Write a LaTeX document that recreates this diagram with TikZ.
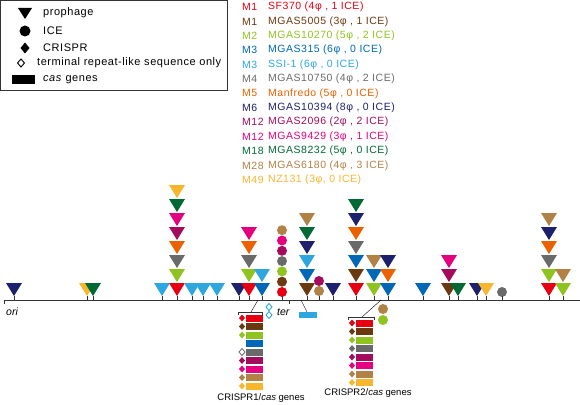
\documentclass[tikz,border=0pt]{standalone}
\usepackage{fontspec}
\setmainfont{Liberation Sans}
\usetikzlibrary{positioning}
\definecolor{m1a}{RGB}{230,0,18}
\definecolor{m1b}{RGB}{106,57,16}
\definecolor{m2}{RGB}{143,195,31}
\definecolor{m3a}{RGB}{0,104,183}
\definecolor{m3b}{RGB}{46,167,224}
\definecolor{m4}{RGB}{106,106,106}
\definecolor{m5}{RGB}{235,97,0}
\definecolor{m6}{RGB}{29,32,106}
\definecolor{m12a}{RGB}{164,11,93}
\definecolor{m12b}{RGB}{228,0,127}
\definecolor{m18}{RGB}{0,105,52}
\definecolor{m28}{RGB}{178,129,70}
\definecolor{m49}{RGB}{248,182,45}
% prophage triangle: x, level, colour
\newcommand{\phg}[3]{\fill[#3] ({#1-8},{283-14*#2}) -- ({#1+8},{283-14*#2}) -- (#1,{296-14*#2}) -- cycle;}
% crispr diamond: x, y, style
\newcommand{\crd}[3]{\path[#3] ({#1-3},#2) -- (#1,{#2-3.5}) -- ({#1+3},#2) -- (#1,{#2+3.5}) -- cycle;}

\begin{document}
\begin{tikzpicture}[x=1pt,y=-1pt,
  tick/.style={black!80,line width=0.8pt},
  lbl/.style={anchor=west,inner sep=0pt,font=\fontsize{11}{13}\selectfont\addfontfeatures{LetterSpace=5}},
  strain/.style={anchor=west,inner sep=0pt,font=\fontsize{10.5}{12}\selectfont\addfontfeatures{LetterSpace=5}},
  captext/.style={font=\fontsize{9.5}{11}\selectfont}]
  \useasboundingbox (0,0) rectangle (580,404);
  % legend
  \draw[black!80,line width=0.8pt] (0.5,0.5) rectangle (227,90);
  \fill (18,8) -- (32,8) -- (25,19) -- cycle;
  \node[lbl] (lphg) at (43,13) {prophage};
  \fill (25,31) circle (5.5);
  \node[lbl] (lice) at (43,31) {ICE};
  \fill (20.5,48) -- (25,42.5) -- (29.5,48) -- (25,53.5) -- cycle;
  \node[lbl] (lcr) at (43,48) {CRISPR};
  \draw[line width=0.9pt] (17.5,63) -- (21,59) -- (24.5,63) -- (21,67) -- cycle;
  \node[lbl] (ltr) at (37,63) {terminal repeat-like sequence only};
  \fill (12,75) rectangle (35,84);
  \node[lbl] (lcas) at (43,80) {\textit{cas} genes};
  % strains
  \foreach \c/\sero/\name [count=\i from 0] in {m1a/M1/{SF370 (4φ , 1 ICE)},
      m1b/M1/{MGAS5005 (3φ , 1 ICE)}, m2/M2/{MGAS10270 (5φ , 2 ICE)},
      m3a/M3/{MGAS315 (6φ , 0 ICE)}, m3b/M3/{SSI-1 (6φ , 0 ICE)},
      m4/M4/{MGAS10750 (4φ , 2 ICE)}, m5/M5/{Manfredo (5φ , 0 ICE)},
      m6/M6/{MGAS10394 (8φ , 0 ICE)}, m12a/M12/{MGAS2096 (2φ , 2 ICE)},
      m12b/M12/{MGAS9429 (3φ , 1 ICE)}, m18/M18/{MGAS8232 (5φ , 0 ICE)},
      m28/M28/{MGAS6180 (4φ , 3 ICE)}, m49/M49/{NZ131 (3φ, 0 ICE)}}
  {
    \node[strain,text=\c] (s\i) at (242,{7+14.4*\i}) {\sero};
    \node[strain,text=\c] (n\i) at (268,{7+14.4*\i}) {\name};
  }
  % chromosome
  \draw[tick] (4,300) -- (580,300);
  \draw[tick] (4,300) -- (4,304);
  \node[lbl,font=\fontsize{10.5}{12}\selectfont\itshape] (ori) at (6,312) {ori};
  \node[lbl,font=\fontsize{10.5}{12}\selectfont\itshape] (ter) at (277,312) {ter};
  \draw[tick] (289,300) -- (289,304);
  % prophages
  \foreach \x/\cols in {14/{m6},87/{m49},93/{m18},162/{m3b},
      177/{m1a,m2,m4,m5,m12a,m12b,m18,m49},192/{m3b},203/{m3b},217/{m3b},
      239/{m6},249/{m1a,m2,m4,m5,m12b},262/{m3a,m3b},
      307/{m1b,m3a,m3b,m6,m18,m28},333/{m6},
      356/{m1a,m1b,m3a,m4,m5,m6,m18},374/{m2,m3a,m28},388/{m3a,m5,m6},
      423/{m3a},449/{m1b,m12a,m12b},458/{m18},477/{m6},486/{m49},
      549/{m1a,m2,m4,m5,m6,m28},563/{m2,m28}}
  {
    \draw[tick] (\x,296) -- (\x,300);
    \foreach \c [count=\k from 0] in \cols {\phg{\x}{\k}{\c}}
  }
  % ICEs
  \foreach \c [count=\k from 0] in {m1a,m1b,m2,m4,m12a,m12b,m28}
    \fill[\c] (282,{292-10.3*\k}) circle (5);
  \draw[tick] (282,296) -- (282,300);
  \fill[m28] (319,291) circle (5);
  \fill[m12a] (319,281) circle (5);
  \draw[tick] (319,296) -- (319,300);
  \fill[m4] (502,292) circle (5);
  \draw[tick] (502,296) -- (502,300);
  \fill[m28] (383,309) circle (5);
  \fill[m2] (383,320) circle (5);
  % light blue block near ter
  \draw[black] (301,300) -- (307,312);
  \fill[m3b] (299,312) rectangle (317,318);
  % terminal repeat-like sequences
  \crd{269}{307}{draw=m3b,line width=0.9pt}
  \crd{269}{315}{draw=m3b,line width=0.9pt}
  % CRISPR1
  \draw[black] (258,300) -- (251,312);
  \draw[black!80,line width=0.8pt] (238,315) -- (238,312) -- (262,312) -- (262,315);
  \foreach \c/\d [count=\k from 0] in {m1a/f,m1b/f,m2/f,m3a/n,m4/o,m12a/f,m12b/f,m28/f,m49/f}
  {
    \fill[\c] (246,{314.5+8.5*\k}) rectangle (263,{321.5+8.5*\k});
    \if\d f\crd{242}{318+8.5*\k}{fill=\c}\fi
    \if\d o\crd{242}{318+8.5*\k}{draw=\c,line width=0.8pt}\fi
  }
  \node[captext] (cap1) at (261,398) {CRISPR1/\textit{cas} genes};
  % CRISPR2
  \draw[black] (381,300) -- (362,317);
  \draw[black!80,line width=0.8pt] (348,320) -- (348,317) -- (374,317) -- (374,320);
  \foreach \c [count=\k from 0] in {m1a,m1b,m2,m4,m12a,m12b,m28,m49}
  {
    \fill[\c] (356,{319.5+8.5*\k}) rectangle (373,{326.5+8.5*\k});
    \crd{352}{323+8.5*\k}{fill=\c}
  }
  \node[captext] (cap2) at (368,393) {CRISPR2/\textit{cas} genes};
\end{tikzpicture}
\end{document}
